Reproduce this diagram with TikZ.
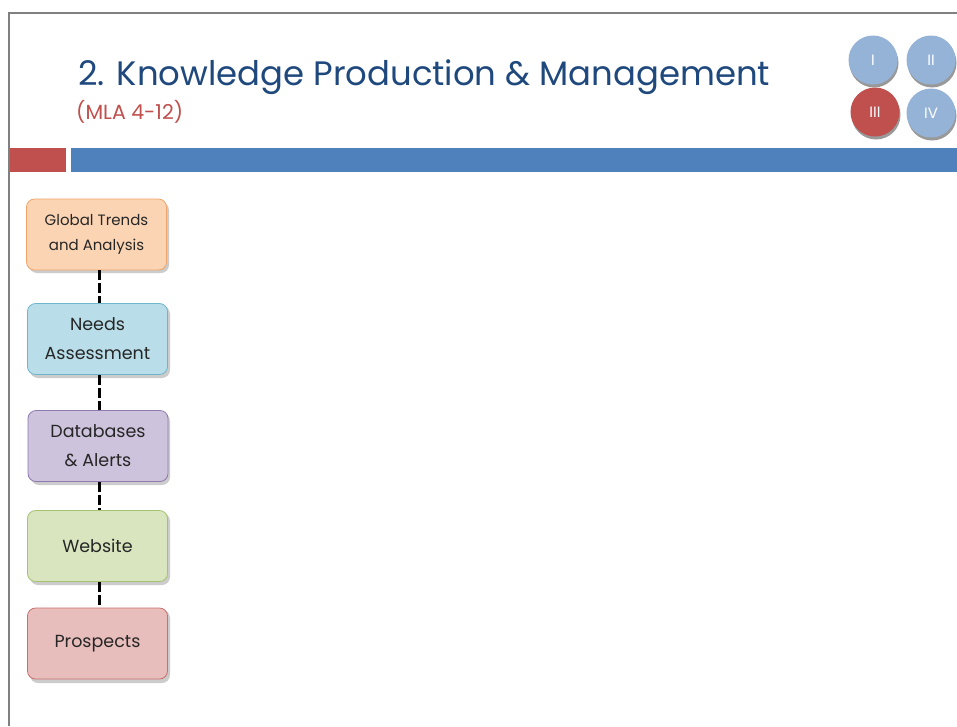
\documentclass[tikz,border=0pt]{standalone}
\usepackage{fontspec}
\setmainfont{Poppins}
\usetikzlibrary{positioning}
\definecolor{titleblue}{HTML}{1F497D}
\definecolor{accred}{HTML}{C0504D}
\definecolor{barblue}{HTML}{4F81BD}
\definecolor{circblue}{HTML}{95B3D7}
\definecolor{frame}{HTML}{808080}
\definecolor{f1}{HTML}{FBD4B4}\definecolor{d1}{HTML}{F0A56A}
\definecolor{f2}{HTML}{B9DEE9}\definecolor{d2}{HTML}{6FB5C9}
\definecolor{f3}{HTML}{CDC3DC}\definecolor{d3}{HTML}{8E7AAE}
\definecolor{f4}{HTML}{D8E5BF}\definecolor{d4}{HTML}{A5C26E}
\definecolor{f5}{HTML}{E8BEBD}\definecolor{d5}{HTML}{C9706D}
\begin{document}
\begin{tikzpicture}[x=1pt,y=-1pt,
  flowbox/.style={draw, line width=0.8pt, rounded corners=8pt, minimum width=140pt, minimum height=71pt, align=center, text=black!85, font=\fontsize{17.5}{29}\selectfont},
  link/.style={line width=3pt, dash pattern=on 10pt off 3pt, black},
  roman/.style={circle, minimum size=49pt, inner sep=0pt, text=white, font=\fontsize{15}{15}\selectfont},
  rshadow/.style={circle, minimum size=49pt, inner sep=0pt, fill=black!40}
]
\useasboundingbox (0,0) rectangle (957,726);
\fill[white] (0,0) rectangle (957,726);
% frame
\draw[frame, line width=1.5pt] (9,726) -- (9,13) -- (957,13);
% bars
\fill[accred] (10,148) rectangle (66,172);
\fill[barblue] (71,148) rectangle (957,172);
% title
\node[anchor=base west, inner sep=0pt, text=titleblue] (title) at (78,85) {\resizebox{692pt}{!}{2. Knowledge Production \& Management}};
\node[anchor=base west, inner sep=0pt, text=accred, font=\fontsize{20.5}{20.5}\selectfont] (sub) at (76,119) {(MLA 4-12)};
% circles
\node[rshadow] (s1) at (874,63) {};
\node[rshadow] (s2) at (932,63) {};
\node[rshadow] (s3) at (876,115) {};
\node[rshadow] (s4) at (932,116) {};
\node[roman, fill=circblue] (c1) at (873,60) {I};
\node[roman, fill=circblue] (c2) at (931,60) {II};
\node[roman, fill=accred] (c3) at (875,112) {III};
\node[roman, fill=circblue] (c4) at (931,113) {IV};
\coordinate (lx) at (99,0);
% shadows of boxes
\fill[black!20, rounded corners=8pt] (29,202) rectangle (169,273);
\fill[black!20, rounded corners=8pt] (30,306) rectangle (170,378);
\fill[black!20, rounded corners=8pt] (31,413) rectangle (170,485);
\fill[black!20, rounded corners=8pt] (30,513) rectangle (170,585);
\fill[black!20, rounded corners=8pt] (30,610) rectangle (170,683);
% boxes
\node[flowbox, fill=f1, draw=d1, font=\fontsize{15}{25}\selectfont] (b1) at (96.5,234.5) {Global Trends\\and Analysis};
\node[flowbox, fill=f2, draw=d2] (b2) at (97.5,339) {Needs\\Assessment};
\node[flowbox, fill=f3, draw=d3] (b3) at (98,446) {Databases\\\& Alerts};
\node[flowbox, fill=f4, draw=d4] (b4) at (97.5,546) {Website};
\node[flowbox, fill=f5, draw=d5] (b5) at (97.5,643.5) {Prospects};
\draw[link] (b1.south -| lx) -- (b2.north -| lx);
\draw[link] (b2.south -| lx) -- (b3.north -| lx);
\draw[link] (b3.south -| lx) -- (b4.north -| lx);
\draw[link] (b4.south -| lx) -- (b5.north -| lx);
\end{tikzpicture}
\end{document}
